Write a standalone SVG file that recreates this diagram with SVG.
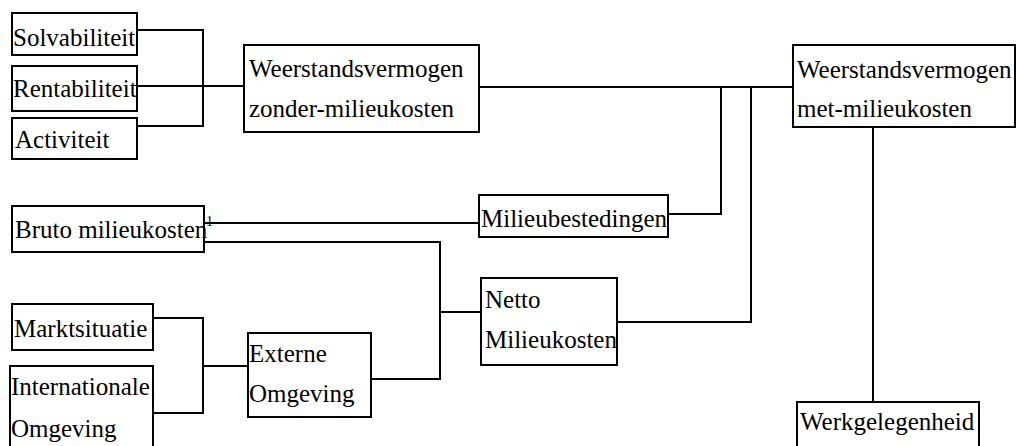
<svg xmlns="http://www.w3.org/2000/svg" width="1016" height="446" viewBox="0 0 1016 446">
<style>
.box{fill:#fff;stroke:#000;stroke-width:2}
.t{font-family:'Liberation Serif','DejaVu Serif',serif;font-size:25px;fill:#000}
.s{font-family:'Liberation Serif','DejaVu Serif',serif;font-size:14px;fill:#000}
.c{fill:none;stroke:#000;stroke-width:2}
</style>
<rect width="1016" height="446" fill="#fff"/>
<g id="connectors">
<polyline class="c" points="137,30 203,30 203,126 137,126"/>
<line class="c" x1="137" y1="86" x2="244" y2="86"/>
<line class="c" x1="479" y1="87" x2="793" y2="87"/>
<line class="c" x1="204" y1="223" x2="479" y2="223"/>
<polyline class="c" points="668,214 721,214 721,87"/>
<polyline class="c" points="204,242 440,242 440,379 371,379"/>
<line class="c" x1="440" y1="312" x2="481" y2="312"/>
<polyline class="c" points="617,322 751,322 751,87"/>
<polyline class="c" points="153,318 203,318 203,413 153,413"/>
<line class="c" x1="203" y1="366" x2="248" y2="366"/>
<line class="c" x1="873" y1="127" x2="873" y2="402"/>
</g>
<g id="solvabiliteit"><rect class="box" x="12" y="13" width="125" height="42"/><text class="t" x="13" y="46">Solvabiliteit</text></g>
<g id="rentabiliteit"><rect class="box" x="12" y="66" width="125" height="45"/><text class="t" x="13" y="97">Rentabiliteit</text></g>
<g id="activiteit"><rect class="box" x="12" y="118" width="125" height="41"/><text class="t" x="15" y="148">Activiteit</text></g>
<g id="weerstand-zonder"><rect class="box" x="244" y="45" width="235" height="87"/><text class="t" x="249" y="77">Weerstandsvermogen</text><text class="t" x="249" y="117">zonder-milieukosten</text></g>
<g id="weerstand-met"><rect class="box" x="793" y="45" width="222" height="82"/><text class="t" x="797" y="78">Weerstandsvermogen</text><text class="t" x="797" y="117">met-milieukosten</text></g>
<g id="bruto"><rect class="box" x="12" y="206" width="192" height="46"/><text class="t" x="15" y="238">Bruto milieukosten</text><text class="s" x="206" y="226">1</text></g>
<g id="milieubestedingen"><rect class="box" x="479" y="195" width="189" height="42"/><text class="t" x="481" y="227">Milieubestedingen</text></g>
<g id="netto"><rect class="box" x="481" y="278" width="136" height="87"/><text class="t" x="485" y="308">Netto</text><text class="t" x="485" y="348">Milieukosten</text></g>
<g id="marktsituatie"><rect class="box" x="12" y="304" width="141" height="46"/><text class="t" x="14" y="337">Marktsituatie</text></g>
<g id="internationale"><rect class="box" x="10" y="366" width="143" height="90"/><text class="t" x="11" y="395">Internationale</text><text class="t" x="11" y="437">Omgeving</text></g>
<g id="externe"><rect class="box" x="248" y="333" width="123" height="84"/><text class="t" x="249" y="362">Externe</text><text class="t" x="249" y="402">Omgeving</text></g>
<g id="werkgelegenheid"><rect class="box" x="797" y="402" width="182" height="60"/><text class="t" x="800" y="430">Werkgelegenheid</text></g>
</svg>
